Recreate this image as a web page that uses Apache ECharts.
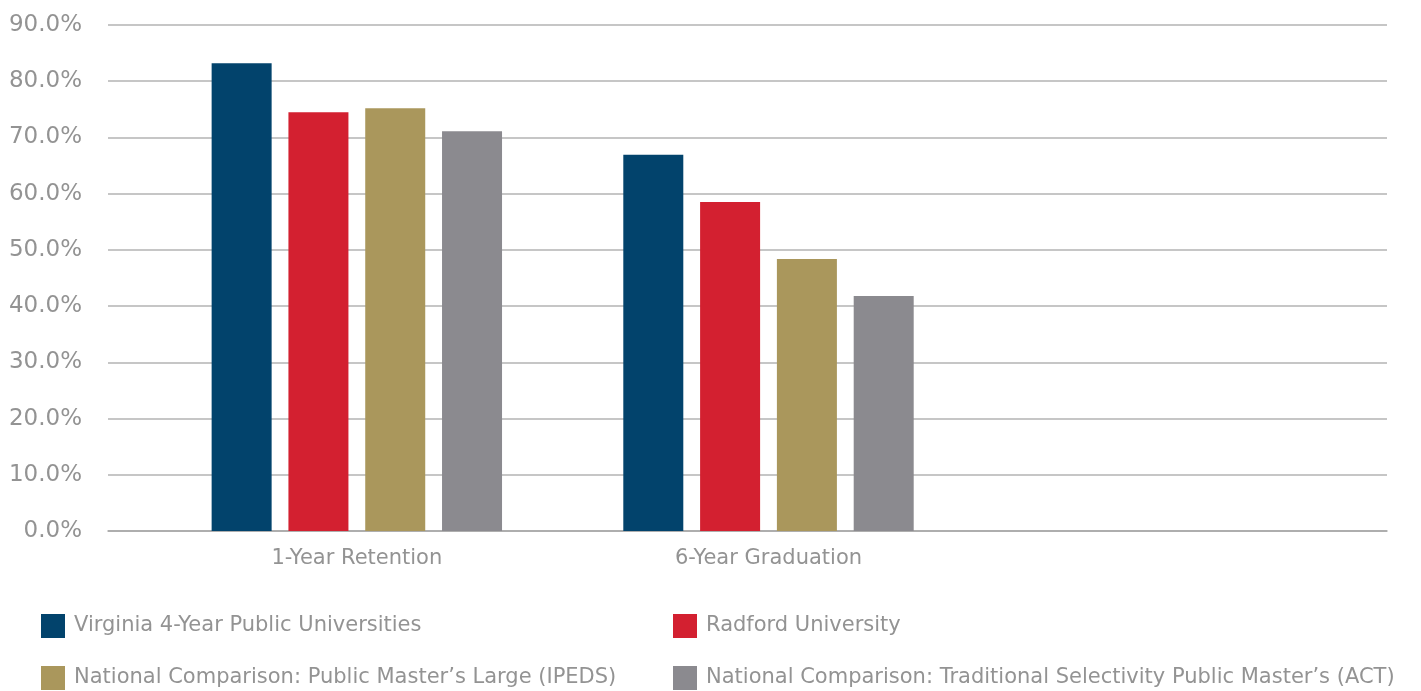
<!DOCTYPE html>
<html><head><meta charset="utf-8">
<script src="https://cdn.jsdelivr.net/npm/echarts@6/dist/echarts.min.js"></script>
<style>html,body{margin:0;padding:0;background:#fff}#c{width:1421px;height:691px}</style>
</head><body><div id="c"></div>
<script>
const categories = ['1-Year Retention', '6-Year Graduation', ''];
const seriesNames = [
  'Virginia 4-Year Public Universities',
  'Radford University',
  'National Comparison: Public Master\u2019s Large (IPEDS)',
  'National Comparison: Traditional Selectivity Public Master\u2019s (ACT)'
];
const virginia = [83.2, 66.9, null];
const radford = [74.5, 58.5, null];
const ipeds = [75.2, 48.4, null];
const act = [71.1, 41.8, null];
const yTicks = [0, 10, 20, 30, 40, 50, 60, 70, 80, 90];
const colors = ['#02436c', '#d32030', '#aa975c', '#8b8a8f'];

const FONT = '"DejaVu Sans", sans-serif';
const TXT = '#939393';
const values = [virginia, radford, ipeds, act];
const legendPos = [[41, 614], [673, 614], [41, 666], [673, 666]];

const chart = echarts.init(document.getElementById('c'));
chart.setOption({
  animation: false,
  textStyle: { fontFamily: FONT },
  grid: [
    { left: 108, right: 34, top: 25, bottom: 160 },
    { left: 151, right: 35, top: 25, bottom: 160 }
  ],
  xAxis: [
    { gridIndex: 0, type: 'value', min: 0, max: 1, axisLine: { show: true, lineStyle: { color: '#a6a6a6', width: 1.5 } },
      axisTick: { show: false }, axisLabel: { show: false }, splitLine: { show: false } },
    { gridIndex: 1, type: 'category', data: categories, axisLine: { show: false }, axisTick: { show: false },
      axisLabel: { color: TXT, fontSize: 21, margin: 17, fontFamily: FONT } }
  ],
  yAxis: [
    { gridIndex: 0, type: 'value', min: yTicks[0], max: yTicks[yTicks.length - 1], interval: 10,
      axisLine: { show: false }, axisTick: { show: false },
      axisLabel: { color: TXT, fontSize: 23, margin: 26, fontFamily: FONT, formatter: v => v.toFixed(1) + '%' },
      splitLine: { lineStyle: { color: '#b3b3b3', width: 1.5 } } },
    { gridIndex: 1, type: 'value', min: 0, max: 90, show: false }
  ],
  legend: seriesNames.map((n, i) => ({
    data: [n], left: legendPos[i][0], top: legendPos[i][1], itemWidth: 24, itemHeight: 24, padding: 0,
    itemTextGap: 9, icon: 'rect', itemStyle: { borderWidth: 0 },
    textStyle: { color: TXT, fontSize: 21, fontFamily: FONT, padding: [0, 0, 0, 4] }
  })),
  series: seriesNames.map((n, i) => ({
    name: n, type: 'bar', xAxisIndex: 1, yAxisIndex: 1, data: values[i],
    barWidth: 60, barGap: '28%', itemStyle: { color: colors[i] }
  }))
});
</script></body></html>
